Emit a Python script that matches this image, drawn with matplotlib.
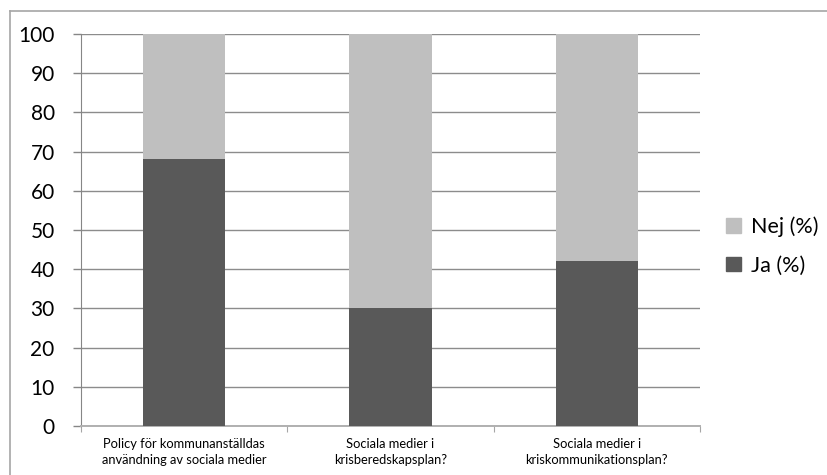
import matplotlib.pyplot as plt
from matplotlib.patches import Patch
from matplotlib.lines import Line2D

plt.rcParams['font.family'] = ['Lato', 'DejaVu Sans']

kategorier = ['Policy för kommunanställdas\nanvändning av sociala medier',
              'Sociala medier i\nkrisberedskapsplan?',
              'Sociala medier i\nkriskommunikationsplan?']
ja = [68, 30, 42]
nej = [32, 70, 58]

ja_farg = '#595959'
nej_farg = '#bfbfbf'

fig = plt.figure(figsize=(8.27, 4.75), dpi=100)
ax = fig.add_axes([0.098, 0.1032, 0.7485, 0.8253])

x = range(len(kategorier))
ax.bar(x, ja, width=0.4, color=ja_farg, zorder=3)
ax.bar(x, nej, width=0.4, bottom=ja, color=nej_farg, zorder=3)

ax.set_xlim(-0.5, 2.5)
ax.set_ylim(0, 100)
ax.set_yticks(range(0, 101, 10))
ax.tick_params(axis='y', labelsize=15, length=6, width=1, color='#868686', pad=13)
ax.yaxis.grid(True, color='#8c8c8c', linewidth=1)
ax.set_axisbelow(True)

# kategorietiketter och delstreck på x-axeln
ax.set_xticks([-0.5, 0.5, 1.5, 2.5])
ax.set_xticklabels([])
ax.set_xticks(list(x), minor=True)
ax.set_xticklabels(kategorier, minor=True, fontsize=9.3, linespacing=1.35)
ax.tick_params(axis='x', which='major', length=4, color='#a6a6a6')
ax.tick_params(axis='x', which='minor', length=0, pad=9)

for s in ['top', 'right']:
    ax.spines[s].set_visible(False)
ax.spines['left'].set_color('#868686')
ax.spines['bottom'].set_color('#b0b0b0')
ax.spines['bottom'].set_linewidth(1.4)

handles = [Patch(color=nej_farg, label='Nej (%)'), Patch(color=ja_farg, label='Ja (%)')]
fig.legend(handles=handles, loc='center left', bbox_to_anchor=(726 / 827, 1 - 246 / 475),
           frameon=False, fontsize=15.5, handlelength=0.68, handleheight=0.68,
           handletextpad=0.5, labelspacing=0.85, borderpad=0, borderaxespad=0)

# diagramramen
fig.add_artist(Line2D([10 / 827, 1.0], [1 - 11 / 475, 1 - 11 / 475],
                      transform=fig.transFigure, color='#a6a6a6', linewidth=1.2))
fig.add_artist(Line2D([10 / 827, 10 / 827], [0.0, 1 - 11 / 475],
                      transform=fig.transFigure, color='#a6a6a6', linewidth=1.2))

fig.savefig('out.png', dpi=100)
